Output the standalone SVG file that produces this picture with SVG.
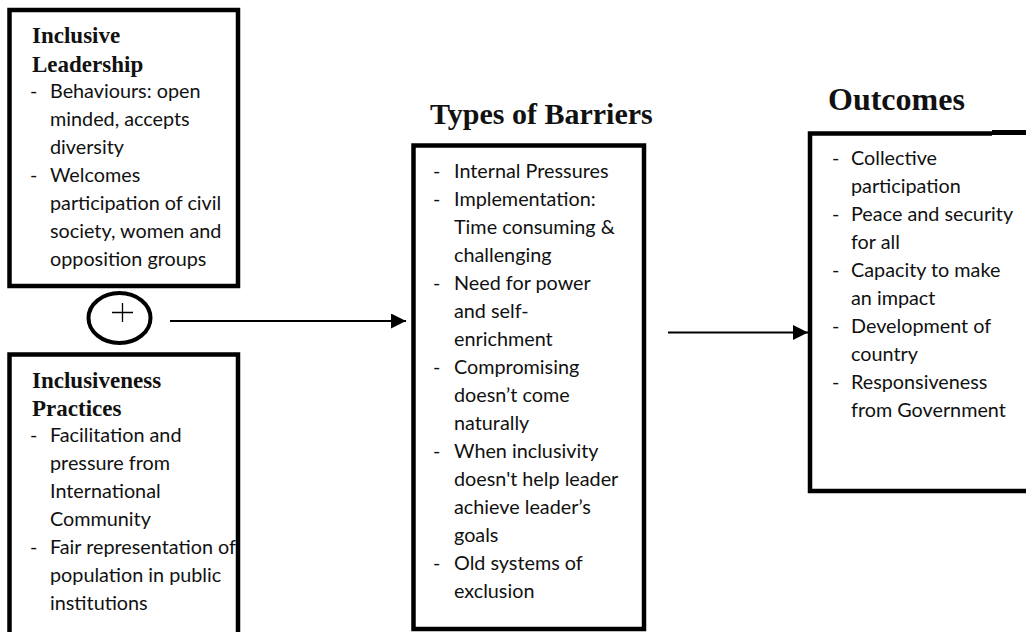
<svg xmlns="http://www.w3.org/2000/svg" width="1026" height="632" viewBox="0 0 1026 632">
<defs>
<style>
.box{fill:none;stroke:#000;stroke-width:4.5}
.t{font-family:"Lato","Noto Sans",sans-serif;font-size:19.8px;fill:#111}
.h{font-family:"Liberation Serif","Times New Roman",serif;font-weight:bold;font-size:23px;fill:#111}
.big{font-family:"Liberation Serif","Times New Roman",serif;font-weight:bold;fill:#111}
.conn{stroke:#000;stroke-width:2;fill:none}
</style>
<marker id="arr" markerWidth="16" markerHeight="16" refX="15" refY="7.5" orient="auto" markerUnits="userSpaceOnUse">
<path d="M0,0 L15,7.5 L0,15 Z" fill="#000"/>
</marker>
</defs>
<rect width="1026" height="632" fill="#fff"/>

<g id="inclusive-leadership">
<text class="h" x="32" y="43">Inclusive</text>
<text class="h" x="32" y="72">Leadership</text>
<text class="t" x="30" y="98">-</text><text class="t" x="50" y="98">Behaviours: open</text>
<text class="t" x="50" y="126">minded, accepts</text>
<text class="t" x="50" y="154">diversity</text>
<text class="t" x="30" y="182">-</text><text class="t" x="50" y="182">Welcomes</text>
<text class="t" x="50" y="210">participation of civil</text>
<text class="t" x="50" y="238">society, women and</text>
<text class="t" x="50" y="266">opposition groups</text>
<rect class="box" x="9.5" y="10" width="228.5" height="276"/>
</g>

<g id="plus">
<ellipse cx="119.5" cy="318" rx="31" ry="25" fill="none" stroke="#000" stroke-width="4"/>
<path d="M112,312.5 H133 M122.5,303 V322" stroke="#000" stroke-width="1.3" fill="none"/>
</g>

<g id="inclusiveness-practices">
<text class="h" x="32" y="388">Inclusiveness</text>
<text class="h" x="32" y="416">Practices</text>
<text class="t" x="30" y="442">-</text><text class="t" x="50" y="442">Facilitation and</text>
<text class="t" x="50" y="470">pressure from</text>
<text class="t" x="50" y="498">International</text>
<text class="t" x="50" y="526">Community</text>
<text class="t" x="30" y="554">-</text><text class="t" x="50" y="554">Fair representation of</text>
<text class="t" x="50" y="582">population in public</text>
<text class="t" x="50" y="610">institutions</text>
<path class="box" d="M9.5,645 V354.5 H238 V645"/>
</g>

<g id="types-of-barriers">
<text class="big" x="430" y="124" font-size="30">Types of Barriers</text>
<text class="t" x="433" y="178">-</text><text class="t" x="454" y="178">Internal Pressures</text>
<text class="t" x="433" y="206">-</text><text class="t" x="454" y="206">Implementation:</text>
<text class="t" x="454" y="234">Time consuming &amp;</text>
<text class="t" x="454" y="262">challenging</text>
<text class="t" x="433" y="290">-</text><text class="t" x="454" y="290">Need for power</text>
<text class="t" x="454" y="318">and self-</text>
<text class="t" x="454" y="346">enrichment</text>
<text class="t" x="433" y="374">-</text><text class="t" x="454" y="374">Compromising</text>
<text class="t" x="454" y="402">doesn’t come</text>
<text class="t" x="454" y="430">naturally</text>
<text class="t" x="433" y="458">-</text><text class="t" x="454" y="458">When inclusivity</text>
<text class="t" x="454" y="486">doesn't help leader</text>
<text class="t" x="454" y="514">achieve leader’s</text>
<text class="t" x="454" y="542">goals</text>
<text class="t" x="433" y="570">-</text><text class="t" x="454" y="570">Old systems of</text>
<text class="t" x="454" y="598">exclusion</text>
<rect class="box" x="413.5" y="145.5" width="230.5" height="483.5"/>
</g>

<g id="outcomes">
<text class="big" x="828" y="110" font-size="32">Outcomes</text>
<text class="t" x="832" y="165">-</text><text class="t" x="851" y="165">Collective</text>
<text class="t" x="851" y="193">participation</text>
<text class="t" x="832" y="221">-</text><text class="t" x="851" y="221">Peace and security</text>
<text class="t" x="851" y="249">for all</text>
<text class="t" x="832" y="277">-</text><text class="t" x="851" y="277">Capacity to make</text>
<text class="t" x="851" y="305">an impact</text>
<text class="t" x="832" y="333">-</text><text class="t" x="851" y="333">Development of</text>
<text class="t" x="851" y="361">country</text>
<text class="t" x="832" y="389">-</text><text class="t" x="851" y="389">Responsiveness</text>
<text class="t" x="851" y="417">from Government</text>
<path d="M1030,491 H810 V133.5 H992" fill="none" stroke="#000" stroke-width="4.5"/>
<path d="M808,133.5 H992" stroke="#000" stroke-width="2.5" fill="none"/>
<path d="M992,132.5 H1030" stroke="#000" stroke-width="5" fill="none"/>
</g>

<g id="connectors">
<path class="conn" d="M170,321 H406" marker-end="url(#arr)"/>
<path class="conn" d="M668,332.5 H808" marker-end="url(#arr)"/>
</g>
</svg>
